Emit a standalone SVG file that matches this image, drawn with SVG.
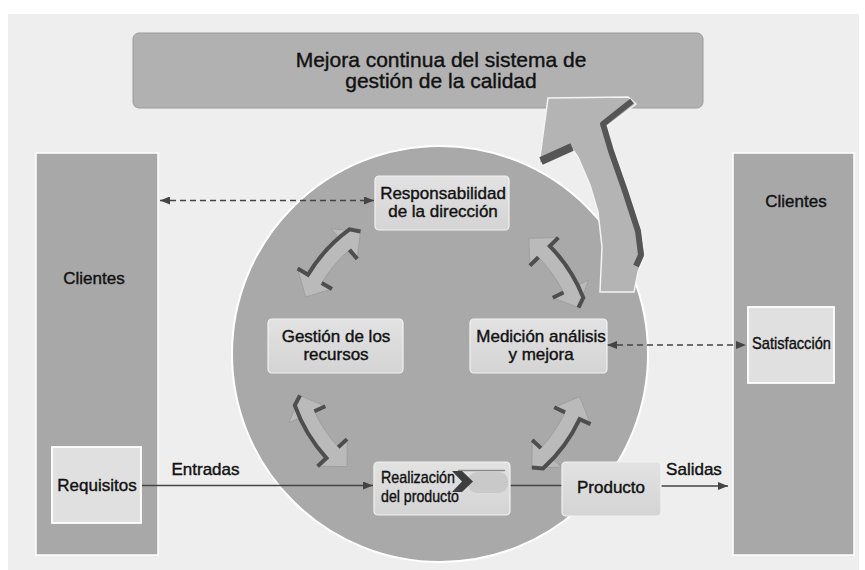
<svg xmlns="http://www.w3.org/2000/svg" width="865" height="570" viewBox="0 0 865 570">
<defs>
<style>
.t{font-family:"Liberation Sans",Arial,sans-serif;font-size:17px;fill:#111;stroke:#111;stroke-width:.4px}
.tt{font-size:21px}
.col{fill:#a8a8a8;stroke:#fff;stroke-width:1.5}
.box{fill:url(#gb);stroke:#f2f2f2;stroke-width:1.2}
.wbox{fill:#e0e0e0;stroke:#fff;stroke-width:1.8}
.dash{stroke:#444;stroke-width:1.3;stroke-dasharray:6 4;fill:none}
.ln{stroke:#444;stroke-width:1.3;fill:none}
.dk{fill:none;stroke:#4e4e4e;stroke-width:4}
</style>
<linearGradient id="gb" x1="0" y1="0" x2="0" y2="1">
<stop offset="0" stop-color="#e2e2e2"/><stop offset="1" stop-color="#d4d4d4"/>
</linearGradient>
<marker id="ah" viewBox="0 0 10 8" refX="10" refY="4" markerWidth="10" markerHeight="8" markerUnits="userSpaceOnUse" orient="auto-start-reverse"><path d="M0,0 L10,4 L0,8 Z" fill="#444"/></marker>
<g id="ca">
<path d="M579.6,311.3 L604.0,328.0 L592.1,329.9 A154,154 0 0 1 592.1,378.1 L604.0,380.0 L579.6,396.7 L564.5,373.7 L576.3,375.6 A138,138 0 0 0 576.3,332.4 L564.5,334.3 Z" fill="#bdbdbd" fill-opacity=".85" stroke="#9c9c9c" stroke-width=".8"/>
<path d="M604.0,328.0 L592.1,329.9 A154,154 0 0 1 589.4,391.3 L579.6,396.7" class="dk"/>
<path d="M564.5,334.3 L576.3,332.4 M564.5,373.7 L576.3,375.6" class="dk"/>
</g>
</defs>

<rect x="0" y="0" width="865" height="570" fill="#ffffff"/>
<rect x="8" y="14" width="851" height="556" fill="#eeeeee"/>

<g id="clientes-izq">
<rect class="col" x="36" y="153" width="122" height="402"/>
<text class="t" x="94" y="284" text-anchor="middle">Clientes</text>
</g>
<g id="clientes-der">
<rect class="col" x="733" y="153" width="121" height="402"/>
<text class="t" x="796" y="207" text-anchor="middle">Clientes</text>
</g>

<g id="mejora">
<rect x="133" y="33" width="570" height="75" rx="6" fill="#b1b1b1" stroke="#9c9c9c" stroke-width="1"/>
<text class="t tt" x="441" y="67" text-anchor="middle">Mejora continua del sistema de</text>
<text class="t tt" x="441" y="88" text-anchor="middle">gestión de la calidad</text>
</g>

<g id="ciclo">
<circle cx="440" cy="354" r="208" fill="#a9a9a9" stroke="#fff" stroke-width="2"/>
</g>

<g id="flecha-mejora">
<path d="M600,292 L602,247 L598,212 L590,185 L578,157 L573,150 L539,164 L548,98 L628,97 L636,104 L606,127 L614,150 L628,190 L641,230 L645,255 L638,272 L634,292 Z" fill="#b4b4b4" stroke="#f4f4f4" stroke-width="1.5"/>
<path d="M541,161 L572,147" stroke="#555" stroke-width="8" fill="none"/>
<path d="M632,101 L603,124 L611,151 L625,191 L638,231 L641,255 L636,266" stroke="#555" stroke-width="6" fill="none" stroke-linejoin="round"/>
</g>

<g id="flechas-ciclo">
<use href="#ca" transform="rotate(220 440 354)"/>
<use href="#ca" transform="rotate(324.5 440 354)"/>
<use href="#ca" transform="rotate(146.5 440 354)"/>
<use href="#ca" transform="rotate(34 440 354)"/>
</g>

<g id="conectores">
<line class="dash" x1="160" y1="200.5" x2="374" y2="200.5" marker-start="url(#ah)" marker-end="url(#ah)"/>
<line class="dash" x1="607" y1="345" x2="746" y2="345" marker-start="url(#ah)" marker-end="url(#ah)"/>
<line class="ln" x1="141" y1="485.5" x2="373" y2="485.5" marker-end="url(#ah)"/>
<line class="ln" x1="510" y1="485.5" x2="562" y2="485.5"/>
<line class="ln" x1="661" y1="486" x2="728" y2="486" marker-end="url(#ah)"/>
<text class="t" x="205.5" y="475" text-anchor="middle">Entradas</text>
<text class="t" x="694" y="475" text-anchor="middle">Salidas</text>
</g>

<g id="responsabilidad">
<rect class="box" x="375" y="176" width="134" height="54" rx="4"/>
<text class="t" x="443" y="199" text-anchor="middle">Responsabilidad</text>
<text class="t" x="443" y="217" text-anchor="middle">de la dirección</text>
</g>
<g id="gestion">
<rect class="box" x="268" y="319" width="135" height="54" rx="4"/>
<text class="t" x="336" y="342" text-anchor="middle">Gestión de los</text>
<text class="t" x="336" y="360" text-anchor="middle">recursos</text>
</g>
<g id="medicion">
<rect class="box" x="470" y="319" width="137" height="54" rx="4"/>
<text class="t" x="541" y="342" text-anchor="middle">Medición análisis</text>
<text class="t" x="541" y="360" text-anchor="middle">y mejora</text>
</g>
<g id="realizacion">
<rect class="box" x="374" y="462" width="136" height="53" rx="4"/>
<rect x="468" y="472" width="40" height="21" rx="9" fill="#c6c6c6" opacity=".9"/>
<line x1="458" y1="470.5" x2="505" y2="470.5" stroke="#8a8a8a" stroke-width="1.5"/>
<polygon points="452,471 462,471 473,481.5 462,492 452,492 462,481.5" fill="#3e3e3e"/>
<text class="t" x="381" y="483" font-size="16" textLength="74" lengthAdjust="spacingAndGlyphs">Realización</text>
<text class="t" x="381" y="502" font-size="16" textLength="78" lengthAdjust="spacingAndGlyphs">del producto</text>
</g>
<g id="producto">
<rect class="box" x="562" y="462" width="99" height="54" rx="4"/>
<text class="t" x="611" y="493" text-anchor="middle">Producto</text>
</g>
<g id="requisitos">
<rect class="wbox" x="52" y="447" width="89" height="76"/>
<text class="t" x="97" y="491" text-anchor="middle">Requisitos</text>
</g>
<g id="satisfaccion">
<rect class="wbox" x="748" y="307" width="86" height="76"/>
<text class="t" x="791.5" y="349" text-anchor="middle" textLength="79" lengthAdjust="spacingAndGlyphs">Satisfacción</text>
</g>
</svg>
